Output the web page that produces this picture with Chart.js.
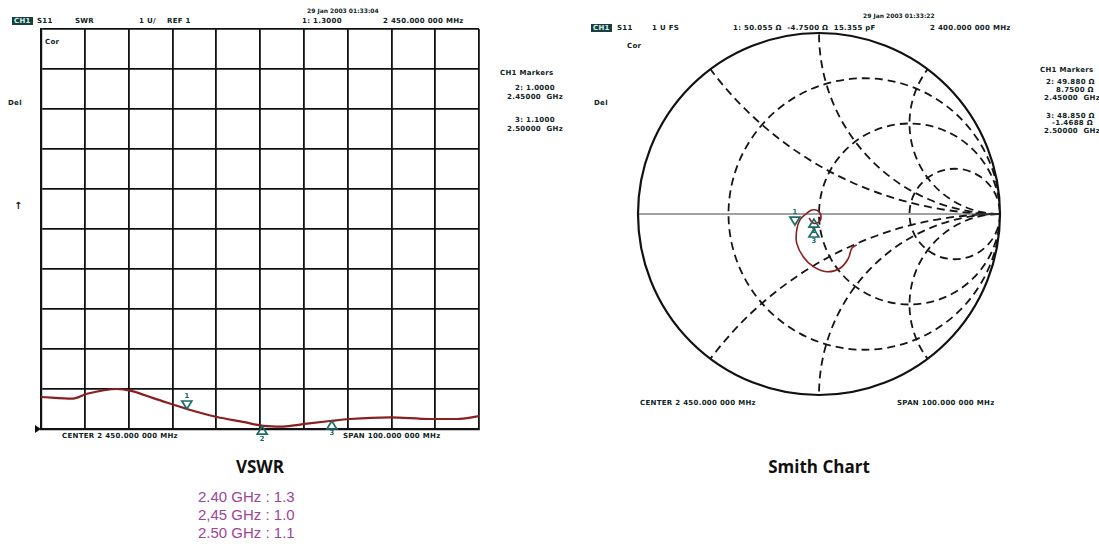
<!DOCTYPE html>
<html lang="en">
<head>
<meta charset="UTF-8">
<title>VSWR / Smith Chart</title>
<script src="https://cdn.jsdelivr.net/npm/chart.js"></script>
<style>
  body {
    margin: 0;
    width: 1099px;
    height: 554px;
    background: #fff;
    position: relative;
    overflow: hidden;
    font-family: "DejaVu Sans", sans-serif;
  }
  canvas { position: absolute; }
  .hd {
    position: absolute;
    font: bold 7px "DejaVu Sans", sans-serif;
    color: #0d2222;
    white-space: pre;
    letter-spacing: 0.3px;
    line-height: 8px;
  }
  .sm { font-size: 6px; letter-spacing: 0; }
  .arr { font-size: 10px; line-height: 10px; }
  .tag { background: #16403e; color: #d8f0ee; padding: 0 2px; }
  .cap {
    position: absolute;
    font: bold 17px "Open Sans", sans-serif;
    color: #111;
    transform: translateX(-50%);
  }
  #summary {
    position: absolute;
    left: 198px;
    top: 488px;
    font: 15px "Liberation Sans", sans-serif;
    color: #9c449a;
    line-height: 18px;
  }
</style>
</head>
<body>
  <!-- left screen: VSWR -->
  <div class="hd sm" style="left:307px;top:7px">29 Jan 2003 01:33:04</div>
  <div class="hd" style="left:12px;top:17px"><span class="tag">CH1</span></div>
  <div class="hd" style="left:37px;top:17px">S11</div>
  <div class="hd" style="left:75px;top:17px">SWR</div>
  <div class="hd" style="left:139px;top:17px">1 U/</div>
  <div class="hd" style="left:167px;top:17px">REF 1</div>
  <div class="hd" style="left:302px;top:17px">1: 1.3000</div>
  <div class="hd" style="left:383px;top:17px">2 450.000 000 MHz</div>
  <div class="hd" style="left:45px;top:38px">Cor</div>
  <div class="hd" style="left:8px;top:99px">Del</div>
  <div class="hd arr" style="left:14px;top:201px">&#8593;</div>
  <div class="hd" style="left:500px;top:69px">CH1 Markers</div>
  <div class="hd" style="left:515px;top:84px">2: 1.0000</div>
  <div class="hd" style="left:507px;top:93px">2.45000  GHz</div>
  <div class="hd" style="left:515px;top:116px">3: 1.1000</div>
  <div class="hd" style="left:507px;top:125px">2.50000  GHz</div>
  <div class="hd" style="left:62px;top:432px">CENTER 2 450.000 000 MHz</div>
  <div class="hd" style="left:343px;top:432px">SPAN 100.000 000 MHz</div>

  <!-- right screen: Smith -->
  <div class="hd sm" style="left:863px;top:12px">29 Jan 2003 01:33:22</div>
  <div class="hd" style="left:591px;top:24px"><span class="tag">CH1</span></div>
  <div class="hd" style="left:617px;top:24px">S11</div>
  <div class="hd" style="left:652px;top:24px">1 U FS</div>
  <div class="hd" style="left:733px;top:24px">1: 50.055 &#937;  -4.7500 &#937;  15.355 pF</div>
  <div class="hd" style="left:930px;top:24px">2 400.000 000 MHz</div>
  <div class="hd" style="left:627px;top:42px">Cor</div>
  <div class="hd" style="left:594px;top:99px">Del</div>
  <div class="hd" style="left:1040px;top:66px">CH1 Markers</div>
  <div class="hd" style="left:1046px;top:78px">2: 49.880 &#937;</div>
  <div class="hd" style="left:1056px;top:86px">8.7500 &#937;</div>
  <div class="hd" style="left:1044px;top:94px">2.45000  GHz</div>
  <div class="hd" style="left:1046px;top:112px">3: 48.850 &#937;</div>
  <div class="hd" style="left:1052px;top:119px">-1.4688 &#937;</div>
  <div class="hd" style="left:1044px;top:127px">2.50000  GHz</div>
  <div class="hd" style="left:640px;top:399px">CENTER 2 450.000 000 MHz</div>
  <div class="hd" style="left:897px;top:399px">SPAN 100.000 000 MHz</div>

  <canvas id="vswr" width="454" height="430" style="left:31px;top:24px"></canvas>
  <canvas id="smith" width="382" height="382" style="left:628px;top:23px"></canvas>

  <div class="cap" style="left:260px;top:455px">VSWR</div>
  <div class="cap" style="left:819px;top:455px">Smith Chart</div>
  <div id="summary"></div>

<script>
  // VSWR trace (frequency in MHz)
  const freqMHz = [2400, 2407.3, 2410.5, 2417.4, 2420.3, 2426.5, 2433.3, 2440.2, 2446.1,
                   2450.7, 2455.3, 2459.8, 2466.0, 2470.5, 2479.7, 2488.8, 2495.0, 2500];
  const swr = [1.40, 1.38, 1.44, 1.50, 1.48, 1.37, 1.25, 1.15, 1.09,
               1.04, 1.03, 1.06, 1.10, 1.125, 1.146, 1.125, 1.125, 1.16];

  // markers on the VSWR screen
  const markerFreq = [2433.3, 2450.5, 2466.4];
  const markerSwr = [1.25, 1.035, 1.10];
  const markerLabel = ['1', '2', '3'];

  // Smith chart trace (reflection coefficient, re / im)
  const traceRe = [0.208, 0.181, 0.162, 0.116, 0.043, -0.031, -0.087, -0.123, -0.123,
                   -0.105, -0.072, -0.039, -0.006, 0.011, 0.0, -0.033, -0.055];
  const traceIm = [-0.171, -0.190, -0.245, -0.300, -0.319, -0.291, -0.236, -0.162, -0.088,
                   -0.033, 0.0, 0.022, 0.017, -0.011, -0.044, -0.050, -0.022];
  const smithMarkerRe = [-0.133, -0.028, -0.028];
  const smithMarkerIm = [-0.061, -0.028, -0.083];

  // Smith grid: constant resistance and reactance circles
  const smithR = [1 / 3, 1, 3];
  const smithX = [0.5, 1, 2];

  // readout under the VSWR screen
  const summaryFreq = ['2.40 GHz', '2,45 GHz', '2.50 GHz'];
  const summarySwr = ['1.3', '1.0', '1.1'];

  document.getElementById('summary').innerHTML =
    summaryFreq.map((f, i) => f + ' : ' + summarySwr[i]).join('<br>');

  const traceColor = '#8a1f1f';
  const markerColor = '#1f6a68';
  const gridColor = '#111';

  // draws the analyzer marker triangles
  const markerPlugin = {
    id: 'markers',
    afterDatasetsDraw(chart, args, opts) {
      const ctx = chart.ctx;
      const xs = chart.scales.x, ys = chart.scales.y;
      ctx.save();
      ctx.strokeStyle = markerColor;
      ctx.fillStyle = markerColor;
      ctx.lineWidth = 1.7;
      ctx.font = 'bold 7px "DejaVu Sans"';
      ctx.textAlign = 'center';
      (opts.items || []).forEach(m => {
        const px = xs.getPixelForValue(m.x);
        const py = ys.getPixelForValue(m.y);
        const w = 5, h = 8;
        ctx.beginPath();
        if (m.dir === 'down') {
          ctx.moveTo(px, py);
          ctx.lineTo(px - w, py - h);
          ctx.lineTo(px + w, py - h);
          ctx.closePath();
          ctx.stroke();
          ctx.textBaseline = 'bottom';
          ctx.fillText(m.label, px, py - h - 1);
        } else {
          ctx.moveTo(px, py);
          ctx.lineTo(px - w, py + h);
          ctx.lineTo(px + w, py + h);
          ctx.closePath();
          ctx.stroke();
          ctx.textBaseline = 'top';
          ctx.fillText(m.label, px, py + h + 1);
        }
      });
      if (opts.refArrow) {
        const ry = ys.getPixelForValue(ys.min);
        const rx = chart.chartArea.left;
        ctx.fillStyle = '#111';
        ctx.beginPath();
        ctx.moveTo(rx, ry);
        ctx.lineTo(rx - 6, ry - 4);
        ctx.lineTo(rx - 6, ry + 4);
        ctx.closePath();
        ctx.fill();
      }
      ctx.restore();
    }
  };

  // draws the Smith chart grid behind the trace
  const smithGrid = {
    id: 'smithGrid',
    beforeDatasetsDraw(chart) {
      const ctx = chart.ctx;
      const xs = chart.scales.x, ys = chart.scales.y;
      const cx = xs.getPixelForValue(0), cy = ys.getPixelForValue(0);
      const unit = xs.getPixelForValue(1) - cx;
      ctx.save();
      // dashed circles, clipped to the outer circle
      ctx.beginPath();
      ctx.arc(cx, cy, unit, 0, Math.PI * 2);
      ctx.clip();
      ctx.setLineDash([8, 5]);
      ctx.strokeStyle = '#151515';
      ctx.lineWidth = 1.8;
      smithR.forEach(r => {
        ctx.beginPath();
        ctx.arc(xs.getPixelForValue(r / (r + 1)), cy, unit / (r + 1), 0, Math.PI * 2);
        ctx.stroke();
      });
      smithX.forEach(x => {
        [1, -1].forEach(sg => {
          ctx.beginPath();
          ctx.arc(xs.getPixelForValue(1), ys.getPixelForValue(sg / x), unit / x, 0, Math.PI * 2);
          ctx.stroke();
        });
      });
      ctx.restore();
      ctx.save();
      ctx.strokeStyle = '#444';
      ctx.lineWidth = 1.2;
      ctx.beginPath();
      ctx.moveTo(cx - unit, cy);
      ctx.lineTo(cx + unit, cy);
      ctx.stroke();
      ctx.strokeStyle = '#111';
      ctx.lineWidth = 2.2;
      ctx.beginPath();
      ctx.arc(cx, cy, unit, 0, Math.PI * 2);
      ctx.stroke();
      ctx.restore();
    }
  };

  const gridAxis = {
    ticks: { display: false },
    grid: { color: gridColor, lineWidth: 1.8, drawTicks: false },
    border: { color: gridColor, width: 2.2 }
  };

  new Chart(document.getElementById('vswr'), {
    type: 'line',
    data: {
      datasets: [{
        data: freqMHz.map((f, i) => ({ x: f, y: swr[i] })),
        borderColor: traceColor,
        borderWidth: 2.2,
        pointRadius: 0,
        cubicInterpolationMode: 'monotone'
      }]
    },
    options: {
      responsive: false,
      animation: false,
      layout: { padding: { left: 10, right: 6, top: 5, bottom: 25 } },
      plugins: {
        legend: { display: false },
        tooltip: { enabled: false },
        markers: {
          refArrow: true,
          items: markerFreq.map((f, i) => ({
            x: f, y: markerSwr[i], label: markerLabel[i], dir: i === 0 ? 'down' : 'up'
          }))
        }
      },
      scales: {
        x: {
          ...gridAxis,
          type: 'linear', min: 2400, max: 2500,
          ticks: { display: false, stepSize: 10 },
          afterFit(s) { s.height = 0; }
        },
        y: {
          ...gridAxis,
          min: 1, max: 6,
          ticks: { display: false, stepSize: 0.5 },
          afterFit(s) { s.width = 0; }
        }
      }
    },
    plugins: [markerPlugin]
  });

  new Chart(document.getElementById('smith'), {
    type: 'scatter',
    data: {
      datasets: [{
        data: traceRe.map((u, i) => ({ x: u, y: traceIm[i] })),
        showLine: true,
        borderColor: traceColor,
        borderWidth: 1.6,
        pointRadius: 0,
        tension: 0.4
      }]
    },
    options: {
      responsive: false,
      animation: false,
      layout: { padding: 10 },
      plugins: {
        legend: { display: false },
        tooltip: { enabled: false },
        markers: {
          items: smithMarkerRe.map((u, i) => ({
            x: u, y: smithMarkerIm[i], label: markerLabel[i], dir: i === 0 ? 'down' : 'up'
          }))
        }
      },
      scales: {
        x: { type: 'linear', min: -1, max: 1, display: false },
        y: { type: 'linear', min: -1, max: 1, display: false }
      }
    },
    plugins: [smithGrid, markerPlugin]
  });
</script>
</body>
</html>
